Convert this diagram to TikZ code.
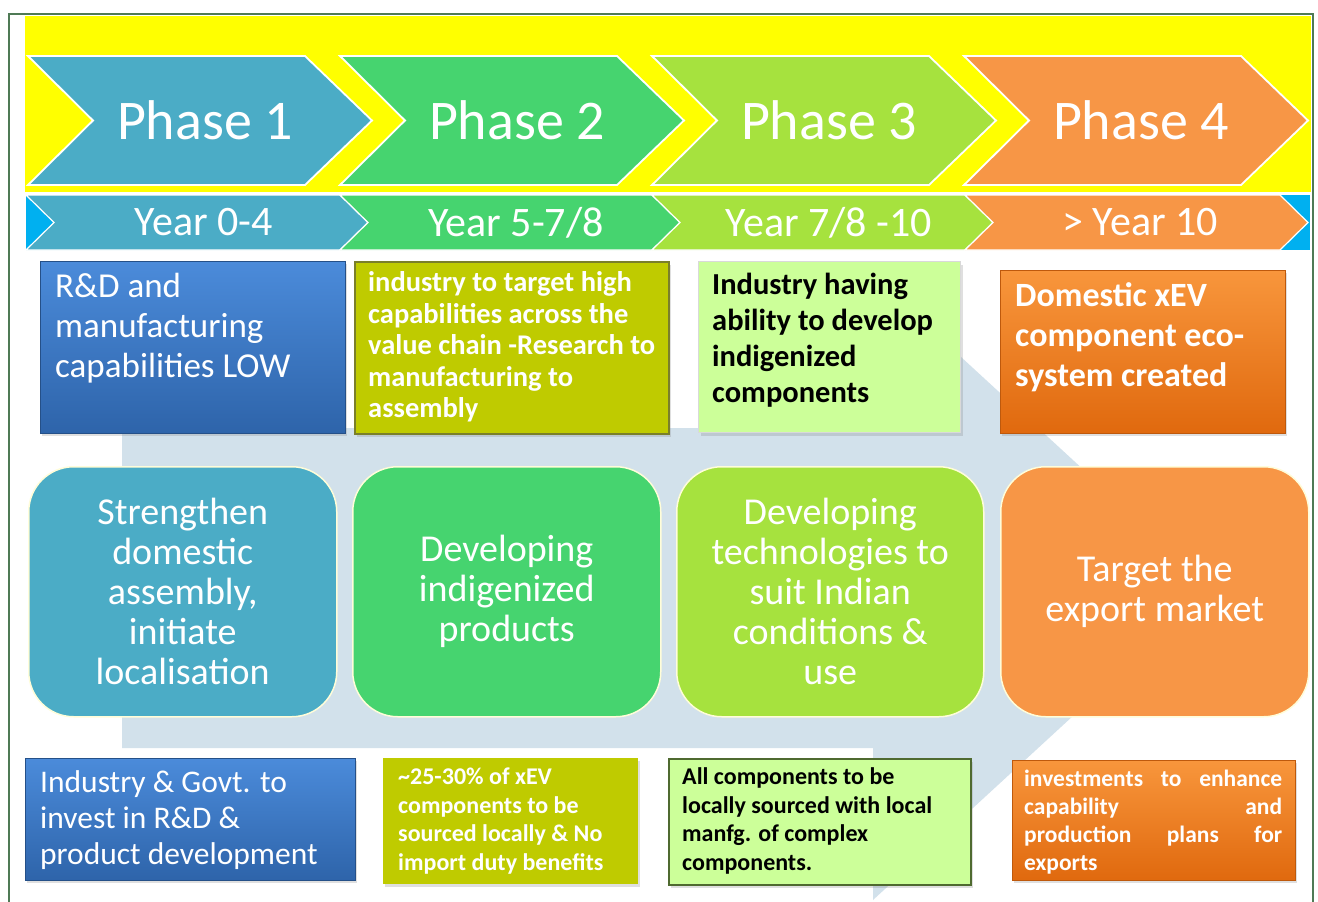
\documentclass[tikz,border=0pt]{standalone}
\usepackage{fontspec}
\setmainfont{Carlito}
\usetikzlibrary{shadows}
\definecolor{pone}{HTML}{4BACC6}
\definecolor{ptwo}{HTML}{46D46F}
\definecolor{pthree}{HTML}{A6E23E}
\definecolor{pfour}{HTML}{F79646}
\definecolor{ylw}{HTML}{FFFF00}
\definecolor{cyanb}{HTML}{00B0F0}
\definecolor{arrowbg}{HTML}{D2E1EB}
\definecolor{framec}{HTML}{4F7A55}
\definecolor{blueT}{HTML}{4B8BDA}
\definecolor{blueB}{HTML}{2E64AA}
\definecolor{olive}{HTML}{BFCB00}
\definecolor{oliveD}{HTML}{7A7F2A}
\definecolor{lgreen}{HTML}{CCFF99}
\definecolor{dgreen}{HTML}{4F6A30}
\definecolor{orT}{HTML}{F8963C}
\definecolor{orB}{HTML}{E0690E}
\newcommand\yrchev[6]{%
  \filldraw[fill=#3, draw=white, line width=1.2pt] (#1,195) -- (#2,195) -- (#2+28,222.5) -- (#2,250) -- (#1,250) -- (#1+28,222.5) -- cycle;
  \node[yeartxt] (#4) at (#6,222.5) {#5};}
\newcommand\phchev[5]{%
  \filldraw[fill=#2, draw=white, line width=1.8pt] (#1,56) -- ++(277,0) -- ++(67,64.5) -- ++(-67,64.5) -- ++(-277,0) -- ++(65,-64.5) -- cycle;
  \node[phasetxt] (#3) at (#1+177,120.5) {#4};}
\begin{document}
\begin{tikzpicture}[x=1pt,y=-1pt,
  phasetxt/.style={text=white, inner sep=0pt, font=\fontsize{56}{60}\selectfont},
  yeartxt/.style={text=white, inner sep=0pt, font=\fontsize{42}{46}\selectfont},
  boxshadow/.style={drop shadow={shadow xshift=2pt, shadow yshift=-3pt, opacity=0.25}},
  sqbox/.style={anchor=north west, inner sep=0pt, boxshadow},
  bluebox/.style={sqbox, top color=blueT, bottom color=blueB, draw=blueB!80!black, line width=0.8pt},
  olivebox/.style={sqbox, fill=olive},
  greenbox/.style={sqbox, fill=lgreen},
  orangebox/.style={sqbox, top color=orT, bottom color=orB, draw=orB!85!black, line width=0.8pt},
  roundbox/.style={anchor=north west, inner sep=0pt, rounded corners=45pt, draw=white!85!yellow, line width=1.5pt,
     minimum width=308pt, minimum height=250pt, text=white, align=center, font=\fontsize{38}{40}\selectfont},
  btxt/.style={anchor=west, inner sep=0pt, align=left}
]
\useasboundingbox (0,0) rectangle (1318,902);
\clip (0,0) rectangle (1318,902);
\fill[white] (0,0) rectangle (1318,902);
\draw[framec, line width=2pt] (9,14) rectangle (1313,930);
\fill[ylw] (25,16) rectangle (1311,192);

% phase chevrons
\phchev{28}{pone}{ph1}{Phase 1}{}
\phchev{340}{ptwo}{ph2}{Phase 2}{}
\phchev{652}{pthree}{ph3}{Phase 3}{}
\phchev{964}{pfour}{ph4}{Phase 4}{}

% year chevrons
\fill[cyanb] (26,195) rectangle (1310,250);
\yrchev{26}{340}{pone}{yr1}{Year 0-4}{204}
\yrchev{340}{652}{ptwo}{yr2}{Year 5-7/8}{516}
\yrchev{652}{965}{pthree}{yr3}{Year 7/8 -10}{829}
\yrchev{965}{1280}{pfour}{yr4}{> Year 10}{1140}

% background arrow
\fill[arrowbg] (122,428) -- (873,428) -- (873,276) -- (1212,588) -- (873,900) -- (873,748) -- (122,748) -- cycle;

% row 1
\node[bluebox, minimum width=305pt, minimum height=172pt] (bA) at (40,261) {};
\node[btxt, text=white, font=\fontsize{35}{40}\selectfont] (tA) at (55,328) {R\&D and\\manufacturing\\capabilities LOW};

\node[olivebox, draw=oliveD, line width=1.8pt, minimum width=314pt, minimum height=172pt] (bB) at (354,261) {};
\node[btxt, text=white, font=\bfseries\fontsize{28.5}{31.5}\selectfont] (tB) at (368,347) {industry to target high\\capabilities across the\\value chain -Research to\\manufacturing to\\assembly};

\node[greenbox, draw=black!15, line width=1pt, minimum width=262pt, minimum height=171pt] (bC) at (698,261) {};
\node[btxt, text=black, font=\bfseries\fontsize{30.5}{36}\selectfont] (tC) at (712,340) {Industry having\\ability to develop\\indigenized\\components};

\node[orangebox, minimum width=285pt, minimum height=163pt] (bD) at (1000,270) {};
\node[btxt, text=white, font=\bfseries\fontsize{34}{40}\selectfont] (tD) at (1015,337) {Domestic xEV\\component eco-\\system created};

% row 2
\node[roundbox, fill=pone] (rE) at (28,466) {Strengthen\\domestic\\assembly,\\initiate\\localisation};
\node[roundbox, fill=ptwo] (rF) at (352,466) {Developing\\indigenized\\products};
\node[roundbox, fill=pthree, minimum width=307pt] (rG) at (676,466) {Developing\\technologies to\\suit Indian\\conditions \&\\use};
\node[roundbox, fill=pfour] (rH) at (1000,466) {Target the\\export market};

% row 3
\node[bluebox, minimum width=330pt, minimum height=122pt] (bI) at (25,758) {};
\node[btxt, text=white, font=\fontsize{31.5}{36}\selectfont] (tI) at (40,820) {Industry \& Govt. to\\invest in R\&D \&\\product development};

\node[olivebox, minimum width=255pt, minimum height=126pt] (bJ) at (383,758) {};
\node[btxt, text=white, font=\bfseries\fontsize{24}{28.5}\selectfont] (tJ) at (398,821) {\textasciitilde25-30\% of xEV\\components to be\\sourced locally \& No\\import duty benefits};

\node[greenbox, draw=dgreen, line width=2pt, minimum width=302pt, minimum height=126pt] (bK) at (668,758) {};
\node[btxt, text=black, font=\bfseries\fontsize{24}{28.5}\selectfont] (tK) at (682,821) {All components to be\\locally sourced with local\\manfg. of complex\\components.};

\node[orangebox, minimum width=283pt, minimum height=120pt] (bL) at (1012,760) {};
\node[btxt, text=white, text width=258pt, font=\bfseries\fontsize{23.5}{28}\selectfont] (tL) at (1024,822) {investments\hfill to\hfill enhance\\capability\hfill and\\production\hfill plans\hfill for\\exports};
\end{tikzpicture}
\end{document}
